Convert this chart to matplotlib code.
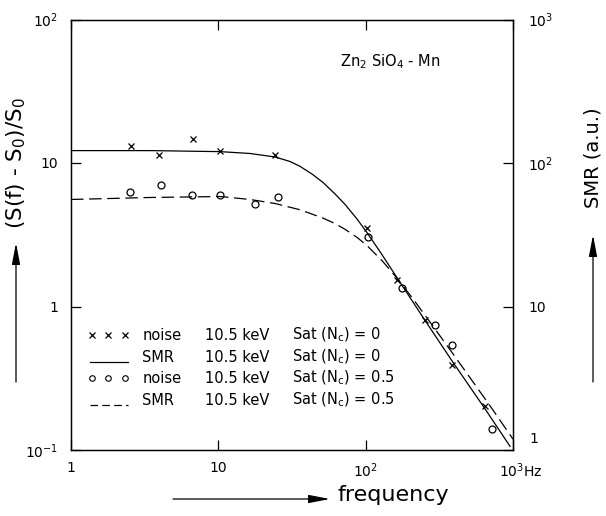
import matplotlib.pyplot as plt
from matplotlib.patches import FancyArrowPatch

plt.rcParams['font.family'] = ['DejaVu Sans']
plt.rcParams['mathtext.default'] = 'regular'

# noise measurements, Sat(Nc)=0  (frequency in Hz, (S(f)-S0)/S0)
f_noise_0 = [2.55, 3.96, 6.73, 10.3, 24.3, 102, 163, 253, 386, 647]
noise_0 = [13.2, 11.3, 14.6, 12.2, 11.3, 3.55, 1.54, 0.80, 0.394, 0.201]

# noise measurements, Sat(Nc)=0.5
f_noise_05 = [2.52, 4.08, 6.63, 10.3, 17.8, 25.4, 104, 177, 296, 386, 721]
noise_05 = [6.23, 7.08, 6.03, 6.03, 5.22, 5.75, 3.03, 1.34, 0.74, 0.535, 0.141]

# SMR curves (a.u., right axis)
f_smr_0 = [1.0, 3.44, 10.3, 16.4, 24.3, 30.7, 35.9, 43.3, 51.4, 62.0, 72.5, 87.4,
           102, 129, 163, 253, 386, 647, 955]
smr_0 = [122, 122, 120, 116.5, 110.1, 102.4, 94.7, 83.7, 73.1, 60.8, 51.4, 40.7,
         32.8, 23.0, 15.9, 7.99, 4.17, 1.93, 1.06]

f_smr_05 = [1.0, 3.44, 10.3, 16.4, 24.3, 35.9, 51.4, 62.0, 72.5, 87.4, 102, 129,
            163, 207, 274, 392, 699, 1000]
smr_05 = [55.7, 57.5, 58.4, 55.7, 52.2, 47.2, 41.3, 37.8, 34.5, 30.3, 26.6, 20.9,
          15.8, 11.5, 7.76, 4.67, 2.03, 1.19]

W, H = 606, 516


def fig_xy(px, py):
    return px / W, 1 - py / H


fig = plt.figure(figsize=(W / 100, H / 100), dpi=100)
ax = fig.add_axes([71 / W, 1 - 450 / H, 442 / W, 430.5 / H])
ax2 = ax.twinx()

ax.set_xscale('log')
ax.set_yscale('log')
ax.set_xlim(1, 1000)
ax.set_ylim(0.1, 100)
ax2.set_yscale('log')
ax2.set_ylim(1, 1000)

ax.plot(f_noise_0, noise_0, 'x', color='black', ms=5, mew=0.9)
ax.plot(f_noise_05, noise_05, 'o', mfc='none', mec='black', ms=5, mew=0.9)
ax2.plot(f_smr_0, smr_0, '-', color='black', lw=0.9)
ax2.plot(f_smr_05, smr_05, color='black', lw=0.9, dashes=(10, 4.5))

ax.minorticks_off()
ax2.minorticks_off()
ax.set_xticks([1, 10, 100, 1000], labels=['1', '10', '10$^2$', ''])
ax.set_yticks([0.1, 1, 10, 100], labels=['10$^{-1}$', '1', '10', '10$^2$'])
ax2.set_yticks([1, 10, 100, 1000], labels=['', '10', '10$^2$', '10$^3$'])
ax.tick_params(axis='x', which='both', direction='in', length=7, width=0.9,
               top=True, pad=8, labelsize=10)
ax.tick_params(axis='y', which='both', direction='in', length=7, width=0.9,
               pad=9, labelsize=10)
ax2.tick_params(axis='y', which='both', direction='in', length=7, width=0.9,
                pad=11, labelsize=10)
for a in (ax, ax2):
    for s in a.spines.values():
        s.set_linewidth(0.9)

ax.annotate('10$^3$Hz', xy=(1000, 0.1), xytext=(-10, -8), textcoords='offset points',
            ha='left', va='top', fontsize=10)
ax2.annotate('1', xy=(1000, 1), xytext=(12, 3), textcoords='offset points',
             ha='left', va='bottom', fontsize=10)

ax.text((340 - 71) / 442, 1 - (62 - 19.5) / 430.5, 'Zn$_2$ SiO$_4$ - Mn',
        transform=ax.transAxes, ha='left', va='center', fontsize=10.5)

# legend
rows = [0.267, 0.216, 0.167, 0.116]
names = ['noise', 'SMR', 'noise', 'SMR']
sats = ['Sat (N$_c$) = 0', 'Sat (N$_c$) = 0', 'Sat (N$_c$) = 0.5', 'Sat (N$_c$) = 0.5']
ax.plot([0.048, 0.084, 0.122], [rows[0]] * 3, 'x', color='black', ms=4, mew=0.9,
        transform=ax.transAxes)
ax.plot([0.043, 0.129], [rows[1] - 0.012] * 2, '-', color='black', lw=0.9,
        transform=ax.transAxes)
ax.plot([0.048, 0.084, 0.122], [rows[2]] * 3, 'o', mfc='none', mec='black', ms=4,
        mew=0.8, transform=ax.transAxes)
ax.plot([0.043, 0.129], [rows[3] - 0.012] * 2, color='black', lw=0.9,
        dashes=(6, 3.5), transform=ax.transAxes)
for y, n, s in zip(rows, names, sats):
    ax.text(0.161, y, n, transform=ax.transAxes, ha='left', va='center', fontsize=10.5)
    ax.text(0.303, y, '10.5 keV', transform=ax.transAxes, ha='left', va='center',
            fontsize=10.5)
    ax.text(0.5, y, s, transform=ax.transAxes, ha='left', va='center', fontsize=10.5)

# axis titles with arrows
fig.text(*fig_xy(16, 163), '(S(f) - S$_0$)/S$_0$', rotation=90, ha='center',
         va='center', fontsize=15.5)
fig.text(*fig_xy(593, 158), 'SMR (a.u.)', rotation=90, ha='center', va='center',
         fontsize=14)
fig.text(*fig_xy(338, 495), 'frequency', ha='left', va='center', fontsize=16)

style = '-|>,head_length=1.3,head_width=0.25'
for p0, p1 in [((16, 382), (16, 243)), ((593, 382), (593, 235)), ((173, 499), (330, 499))]:
    fig.add_artist(FancyArrowPatch(fig_xy(*p0), fig_xy(*p1), transform=fig.transFigure,
                                   arrowstyle=style, lw=0.9, color='black',
                                   mutation_scale=10, shrinkA=0, shrinkB=0))

fig.savefig('out.png', dpi=100)
